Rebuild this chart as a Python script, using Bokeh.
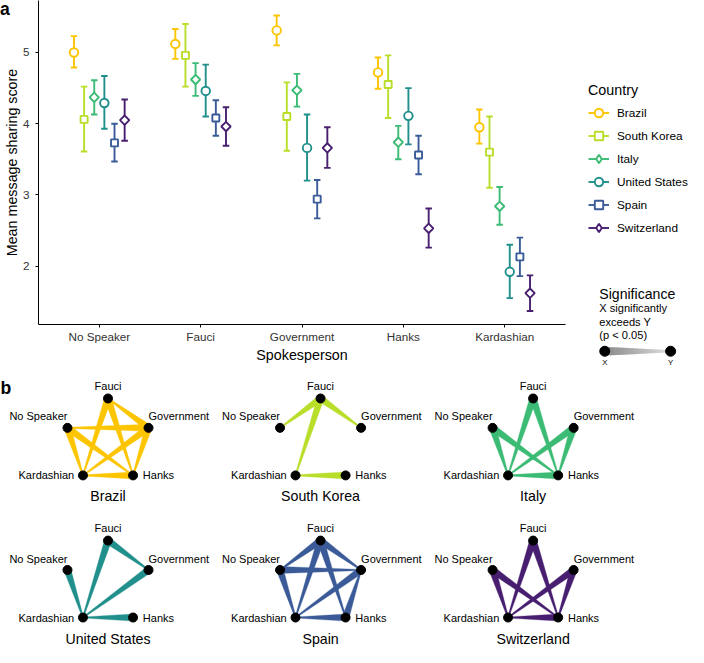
import numpy as np
from bokeh.plotting import figure
from bokeh.models import Range1d, FixedTicker, Legend, LegendItem, ColumnDataSource, Div
from bokeh.layouts import column, row
from bokeh.embed import file_html
from bokeh.resources import INLINE
from bokeh.core.properties import value

FONT = "Liberation Sans"

# ---------------- data ----------------
spokespersons = ["No Speaker", "Fauci", "Government", "Hanks", "Kardashian"]
countries = ["Brazil", "South Korea", "Italy", "United States", "Spain", "Switzerland"]
colors = ["#FDC400", "#B8DE29", "#3CBB75", "#21908C", "#3B5B98", "#481F70"]
shapes = ["circle", "square", "diamond", "circle", "square", "diamond"]

brazil_mean = [5.00, 5.12, 5.31, 4.72, 3.95]
brazil_lo = [4.79, 4.91, 5.10, 4.49, 3.72]
brazil_hi = [5.23, 5.33, 5.52, 4.93, 4.20]

korea_mean = [4.06, 4.96, 4.10, 4.55, 3.60]
korea_lo = [3.61, 4.52, 3.62, 4.08, 3.10]
korea_hi = [4.52, 5.40, 4.58, 4.96, 4.10]

italy_mean = [4.37, 4.62, 4.47, 3.74, 2.84]
italy_lo = [4.13, 4.39, 4.24, 3.50, 2.58]
italy_hi = [4.61, 4.85, 4.70, 3.97, 3.11]

us_mean = [4.29, 4.46, 3.66, 4.11, 1.92]
us_lo = [3.93, 4.10, 3.20, 3.71, 1.55]
us_hi = [4.67, 4.83, 4.13, 4.50, 2.30]

spain_mean = [3.73, 4.08, 2.94, 3.56, 2.13]
spain_lo = [3.47, 3.83, 2.67, 3.29, 1.86]
spain_hi = [4.00, 4.33, 3.21, 3.83, 2.40]

swiss_mean = [4.05, 3.96, 3.66, 2.53, 1.62]
swiss_lo = [3.76, 3.69, 3.38, 2.26, 1.37]
swiss_hi = [4.34, 4.23, 3.95, 2.81, 1.87]

means = [brazil_mean, korea_mean, italy_mean, us_mean, spain_mean, swiss_mean]
lows = [brazil_lo, korea_lo, italy_lo, us_lo, spain_lo, swiss_lo]
highs = [brazil_hi, korea_hi, italy_hi, us_hi, spain_hi, swiss_hi]

y_ticks = [2, 3, 4, 5]

# significant pairs (X significantly exceeds Y)
edges_brazil = [("Government", "Fauci"), ("Fauci", "Kardashian"), ("Fauci", "Hanks"),
                ("Government", "No Speaker"), ("No Speaker", "Hanks"), ("No Speaker", "Kardashian"),
                ("Government", "Kardashian"), ("Government", "Hanks"), ("Hanks", "Kardashian")]
edges_korea = [("Fauci", "No Speaker"), ("Fauci", "Government"), ("Fauci", "Kardashian"),
               ("Hanks", "Kardashian")]
edges_italy = [("Fauci", "Kardashian"), ("Fauci", "Hanks"), ("No Speaker", "Kardashian"),
               ("No Speaker", "Hanks"), ("Government", "Kardashian"), ("Government", "Hanks"),
               ("Hanks", "Kardashian")]
edges_us = [("No Speaker", "Kardashian"), ("Fauci", "Kardashian"), ("Fauci", "Government"),
            ("Government", "Kardashian"), ("Hanks", "Kardashian")]
edges_spain = [("Fauci", "No Speaker"), ("Fauci", "Government"), ("Fauci", "Kardashian"),
               ("Fauci", "Hanks"), ("No Speaker", "Government"), ("No Speaker", "Kardashian"),
               ("Government", "Kardashian"), ("Hanks", "Government"), ("Hanks", "Kardashian")]
edges_swiss = [("Fauci", "Kardashian"), ("Fauci", "Hanks"), ("No Speaker", "Kardashian"),
               ("No Speaker", "Hanks"), ("Government", "Kardashian"), ("Government", "Hanks"),
               ("Hanks", "Kardashian")]
edges = [edges_brazil, edges_korea, edges_italy, edges_us, edges_spain, edges_swiss]

sig_title = "Significance"
sig_lines = ["X significantly", "exceeds Y", "(p < 0.05)"]

# ---------------- styling helpers ----------------
MARK = {
    "circle": dict(marker="circle", size=8.5, angle=0.0),
    "square": dict(marker="square", size=7.0, angle=0.0),
    "diamond": dict(marker="square", size=6.6, angle=np.pi / 4),
}
LEG_MARK = {"circle": "circle", "square": "square", "diamond": "diamond"}
LW = 1.9


def taper(p1, p2, w1, w2):
    p1 = np.asarray(p1, float)
    p2 = np.asarray(p2, float)
    d = p2 - p1
    n = np.array([-d[1], d[0]]) / np.hypot(*d)
    pts = [p1 + n * w1 / 2, p2 + n * w2 / 2, p2 - n * w2 / 2, p1 - n * w1 / 2]
    return [p[0] for p in pts], [p[1] for p in pts]


# ---------------- panel a ----------------
figA = figure(width=585, height=369, x_range=Range1d(0.4, 5.6), y_range=Range1d(1.18, 5.73),
              output_backend="svg", toolbar_location=None,
              min_border_left=32, min_border_right=20, min_border_top=0, min_border_bottom=45)
figA.frame_align = False
figA.grid.visible = False
figA.outline_line_color = None
xa = figA.xaxis[0]
ya = figA.yaxis[0]
for ax in (xa, ya):
    ax.axis_line_color = "black"
    ax.axis_line_width = 1
    ax.major_tick_line_color = "black"
    ax.major_tick_in = 0
    ax.major_tick_out = 3
    ax.minor_tick_line_color = None
    ax.major_label_text_font = FONT
    ax.major_label_text_font_size = "11.7px"
    ax.major_label_text_color = "#333333"
    ax.axis_label_text_font = FONT
    ax.axis_label_text_font_size = "14.3px"
    ax.axis_label_text_font_style = "normal"
    ax.axis_label_text_color = "black"
xa.ticker = FixedTicker(ticks=list(range(1, len(spokespersons) + 1)))
xa.major_label_overrides = {i + 1: s for i, s in enumerate(spokespersons)}
xa.axis_label = "Spokesperson"
xa.major_label_standoff = 2
xa.axis_label_standoff = 1
ya.ticker = FixedTicker(ticks=y_ticks)
ya.axis_label = "Mean message sharing score"
ya.major_label_standoff = 6
ya.axis_label_standoff = 0

cap = 0.032
srcs = []
for i, c in enumerate(countries):
    x = np.arange(1, len(spokespersons) + 1) + (i - 2.5) * 0.1
    src = ColumnDataSource(dict(x=x, m=means[i], lo=lows[i], hi=highs[i], xl=x - cap, xr=x + cap))
    srcs.append(src)
    figA.segment(x0="x", y0="lo", x1="x", y1="hi", source=src, line_color=colors[i], line_width=LW)
    figA.segment(x0="xl", y0="lo", x1="xr", y1="lo", source=src, line_color=colors[i], line_width=LW)
    figA.segment(x0="xl", y0="hi", x1="xr", y1="hi", source=src, line_color=colors[i], line_width=LW)
for i, c in enumerate(countries):
    figA.scatter(x="x", y="m", source=srcs[i], fill_color="white", line_color=colors[i],
                 line_width=LW, **MARK[shapes[i]])

# panel tag "a": overlay element that overlaps the first row (negative bottom margin)
tag_a = Div(text="a", width=20, height=19, margin=(0, 0, -19, 0),
            styles={"font-family": FONT, "font-weight": "bold", "font-size": "17.6px",
                    "line-height": "18px", "color": "black",
                    "position": "relative", "z-index": "10"})

# ---------------- legends column (reference pixel coordinates) ----------------
figL = figure(width=103, height=369, x_range=Range1d(598.6, 704), y_range=Range1d(378, 0),
              output_backend="svg", toolbar_location=None, min_border=0,
              x_axis_location=None, y_axis_location=None)
figL.frame_align = False
figL.grid.visible = False
figL.outline_line_color = None

items = []
for i, c in enumerate(countries):
    seg = figL.segment(x0=[-1e4], y0=[-1e4], x1=[-1e4], y1=[-1e4], line_color=colors[i], line_width=LW)
    sc = figL.scatter(x=[-1e4], y=[-1e4], marker=LEG_MARK[shapes[i]], size=8,
                      fill_color="white", line_color=colors[i], line_width=LW)
    items.append(LegendItem(label=c, renderers=[seg, sc]))
leg = Legend(items=items, title="Country", location=(3, 131), orientation="vertical",
             title_text_font=FONT, title_text_font_size="14.3px", title_text_font_style="normal",
             title_text_color="black", title_standoff=4,
             label_text_font=FONT, label_text_font_size="11.8px", label_text_color="black",
             glyph_width=21, glyph_height=21, label_height=21, spacing=2, label_standoff=8,
             padding=0, margin=0, border_line_alpha=0, background_fill_alpha=0)
figL.add_layout(leg)

figL.text(x=[612.7], y=[300.7], text=[sig_title], text_font=value(FONT),
          text_font_size=value("14.1px"), text_baseline="middle", text_align="left", text_color="black")
figL.text(x=[612.7] * 3, y=[315.0, 329.0, 343.0], text=sig_lines, text_font=value(FONT),
          text_font_size=value("11.1px"), text_baseline="middle", text_align="left", text_color="black")
sx1, sx2, sy = 618.3, 685.7, 359.3
nseg = 14
gx, gy, gc = [], [], []
for k in range(nseg):
    t0, t1 = k / nseg, min(1.0, (k + 1.15) / nseg)
    w0 = 9 + (2 - 9) * t0
    w1 = 9 + (2 - 9) * t1
    xs_, ys_ = taper((sx1 + (sx2 - sx1) * t0, sy), (sx1 + (sx2 - sx1) * t1, sy), w0, w1)
    gx.append(xs_)
    gy.append(ys_)
    g = int(140 + (220 - 140) * (k / (nseg - 1)))
    gc.append("#%02x%02x%02x" % (g, g, g))
figL.patches(xs=gx, ys=gy, fill_color=gc, line_color=None)
figL.scatter(x=[sx1, sx2], y=[sy, sy], size=10, color="black")
figL.text(x=[sx1, sx2], y=[370.7, 370.7], text=["X", "Y"], text_font=value(FONT),
          text_font_size=value("7.8px"), text_baseline="middle", text_align="center", text_color="black")

# ---------------- panel b (reference pixel coordinates) ----------------
figB = figure(width=688, height=278, x_range=Range1d(0, 704), y_range=Range1d(663, 378),
              output_backend="svg", toolbar_location=None, min_border=0,
              x_axis_location=None, y_axis_location=None)
figB.frame_align = False
figB.grid.visible = False
figB.outline_line_color = None

figB.text(x=[0], y=[396.5], text=["b"], text_font=value(FONT), text_font_size=value("17.6px"),
          text_font_style="bold", text_baseline="alphabetic", text_align="left")

R = 43.6
angles = {"No Speaker": 162, "Fauci": 90, "Government": 18, "Hanks": -54, "Kardashian": -126}
lab_off = {"No Speaker": (0, -11.7, "right"), "Fauci": (0, -12.7, "center"),
           "Government": (0, -11.7, "left"), "Hanks": (10, 0, "left"), "Kardashian": (-9, 0, "right")}

nx, ny = [], []
lx, ly, lt, la = [], [], [], []
tx, ty = [], []
for k, c in enumerate(countries):
    col, rw = k % 3, k // 3
    cx = 110 + col * 217.5
    cy = 407.7 + rw * 145.7 + R
    pos = {}
    for s in spokespersons:
        a = np.deg2rad(angles[s])
        pos[s] = (cx + R * np.cos(a), cy - R * np.sin(a))
    xs_e, ys_e = [], []
    for (w, l) in edges[k]:
        ex, ey = taper(pos[w], pos[l], 7.2, 1.2)
        xs_e.append(ex)
        ys_e.append(ey)
    figB.patches(xs=xs_e, ys=ys_e, fill_color=colors[k], line_color=colors[k], line_width=0.3)
    for s in spokespersons:
        nx.append(pos[s][0])
        ny.append(pos[s][1])
        dx, dy, al = lab_off[s]
        lx.append(pos[s][0] + dx)
        ly.append(pos[s][1] + dy)
        lt.append(s)
        la.append(al)
    tx.append(cx)
    ty.append(cy - R * np.sin(np.deg2rad(-54)) + 21.6)

figB.scatter(x=nx, y=ny, size=9, color="black")
figB.text(x="x", y="y", text="t", text_align="a",
          source=ColumnDataSource(dict(x=lx, y=ly, t=lt, a=la)),
          text_font=value(FONT), text_font_size=value("11px"), text_baseline="middle", text_color="black")
figB.text(x=tx, y=ty, text=countries, text_font=value(FONT), text_font_size=value("14.2px"),
          text_baseline="middle", text_align="center", text_color="black")

layout = column(tag_a, row(figA, figL), figB)
open("out.html", "w").write(file_html(layout, INLINE))
